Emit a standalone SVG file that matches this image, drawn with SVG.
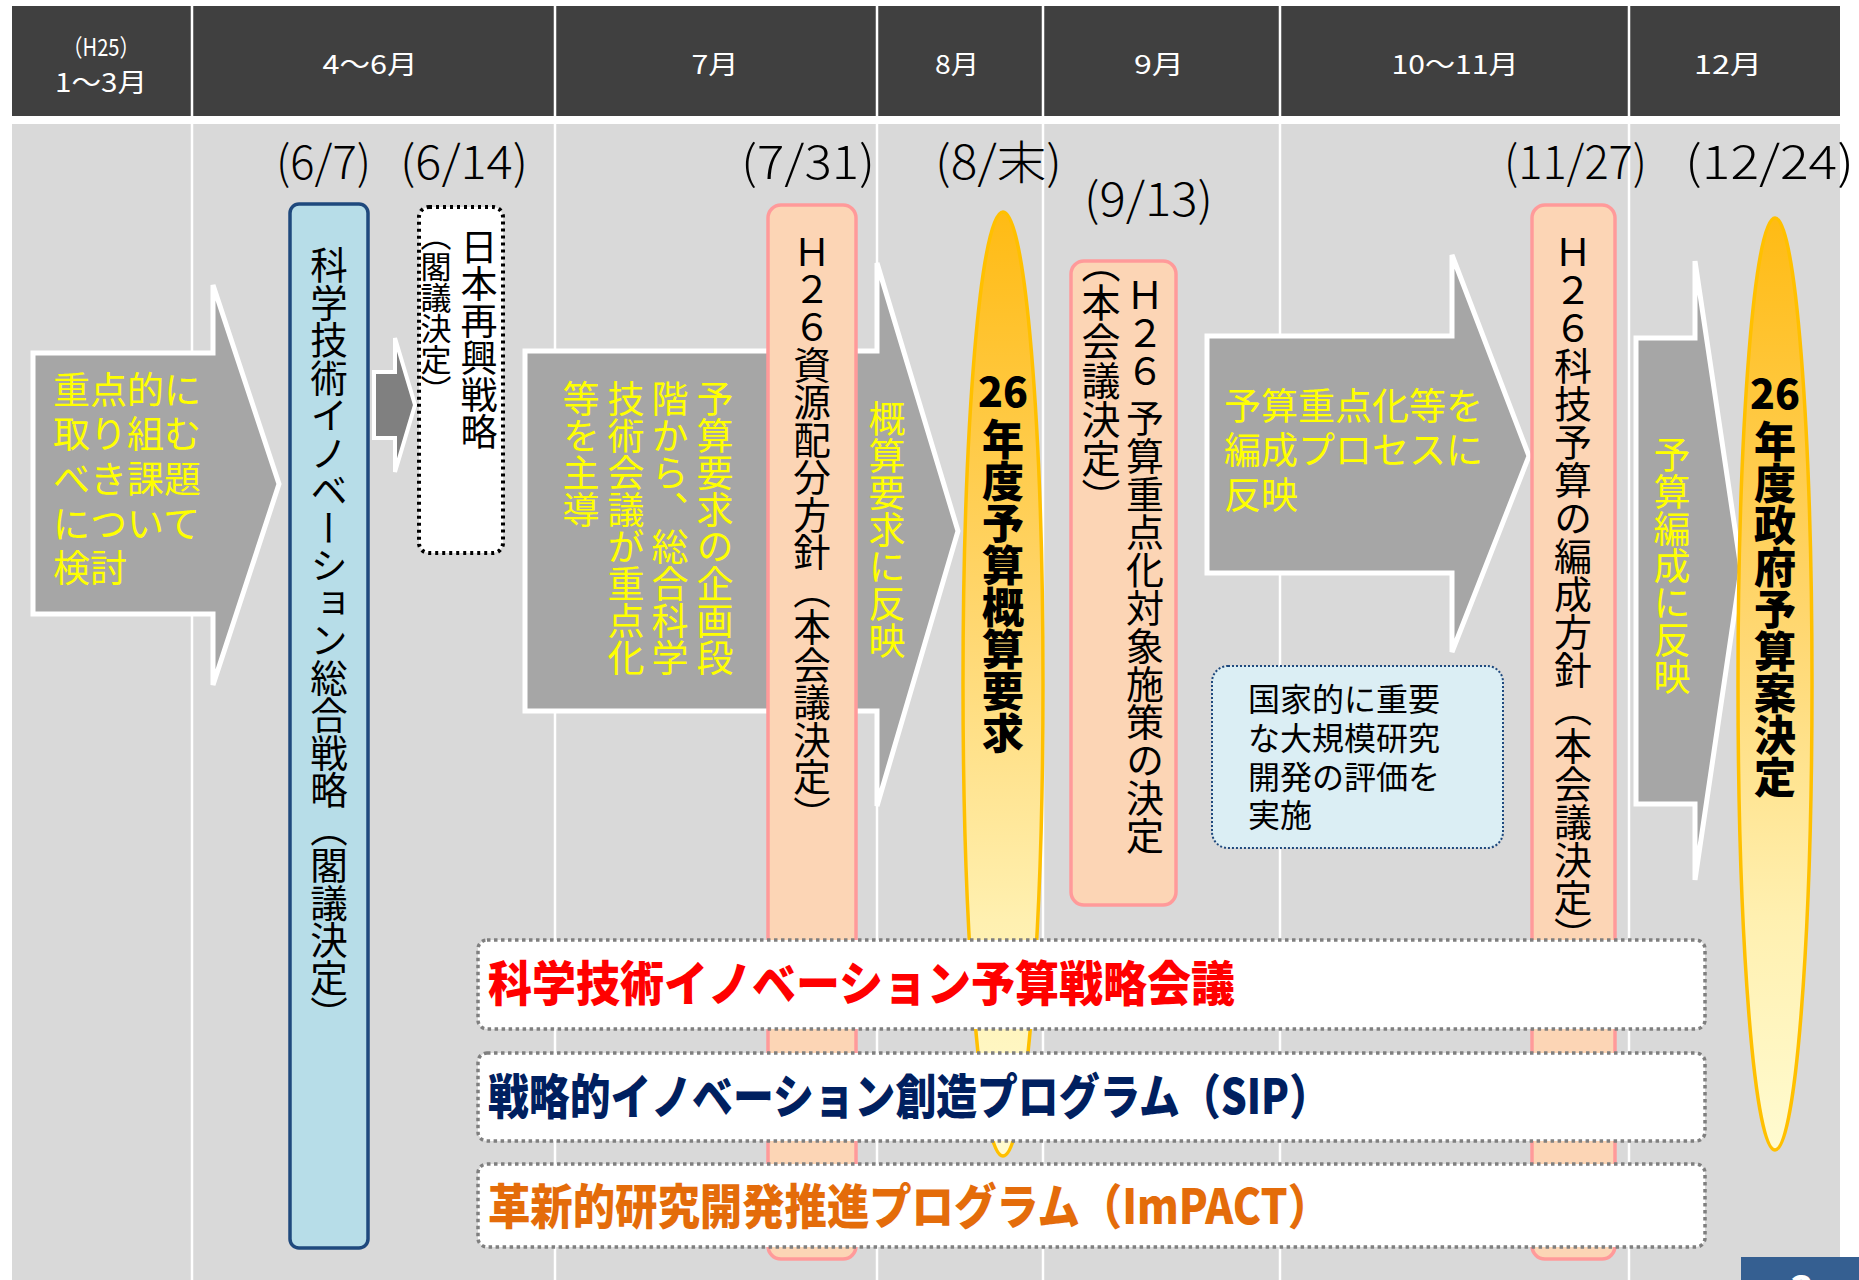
<svg xmlns="http://www.w3.org/2000/svg" width="1859" height="1280" viewBox="0 0 1859 1280">
<defs>
<linearGradient id="gold" x1="0" y1="0" x2="0" y2="1">
<stop offset="0" stop-color="#ffbb14"/>
<stop offset="0.45" stop-color="#ffd873"/>
<stop offset="0.75" stop-color="#fff0b0"/>
<stop offset="1" stop-color="#fffbd0"/>
</linearGradient>
<style>
text{font-family:"Noto Sans CJK JP","Noto Sans",sans-serif;}
.hd{fill:#fff;font-size:24px;text-anchor:middle;}
.dt{fill:#000;font-size:46px;font-weight:300;}
.v{writing-mode:vertical-rl;}
.y{fill:#ffff00;font-size:37px;}
.blk{fill:#000;font-size:37px;}
.bold{font-weight:900;fill:#000;font-size:41px;}
.arrow{fill:#a6a6a6;stroke:#fff;stroke-width:5;}
.pink{fill:#fcd5b5;stroke:#ff9a9a;stroke-width:3.5;}
.ell{fill:url(#gold);stroke:#ffc000;stroke-width:3.5;}
.band{fill:#fff;stroke:#7f7f7f;stroke-width:3.5;stroke-dasharray:3.5 3.5;}
.bt{font-size:48px;font-weight:900;}
.div{stroke:#fff;stroke-width:2.5;}
</style>
</defs>
<rect width="1859" height="1280" fill="#fff"/>
<g id="background">
<rect x="12" y="6" width="1828" height="110" fill="#404040"/>
<rect x="12" y="124" width="1828" height="1156" fill="#d9d9d9"/>
<line class="div" x1="192" y1="6" x2="192" y2="1280"/>
<line class="div" x1="555" y1="6" x2="555" y2="1280"/>
<line class="div" x1="877" y1="6" x2="877" y2="1280"/>
<line class="div" x1="1043" y1="6" x2="1043" y2="1280"/>
<line class="div" x1="1280" y1="6" x2="1280" y2="1280"/>
<line class="div" x1="1629" y1="6" x2="1629" y2="1280"/>
</g>
<g id="header">
<text class="hd" x="101" y="56" style="font-size:24px" textLength="77" lengthAdjust="spacingAndGlyphs">（H25）</text>
<text class="hd" x="101" y="92" style="font-size:26px" textLength="92" lengthAdjust="spacingAndGlyphs">1～3月</text>
<text class="hd" x="370" y="74" style="font-size:26px" textLength="95" lengthAdjust="spacingAndGlyphs">4～6月</text>
<text class="hd" x="715" y="74" style="font-size:26px" textLength="47" lengthAdjust="spacingAndGlyphs">7月</text>
<text class="hd" x="957" y="74" style="font-size:26px" textLength="44" lengthAdjust="spacingAndGlyphs">8月</text>
<text class="hd" x="1159" y="74" style="font-size:26px" textLength="50" lengthAdjust="spacingAndGlyphs">9月</text>
<text class="hd" x="1455" y="74" style="font-size:26px" textLength="127" lengthAdjust="spacingAndGlyphs">10～11月</text>
<text class="hd" x="1728" y="74" style="font-size:26px" textLength="68" lengthAdjust="spacingAndGlyphs">12月</text>
</g>
<g id="dates">
<text class="dt" x="276" y="179" textLength="95" lengthAdjust="spacingAndGlyphs">(6/7)</text>
<text class="dt" x="400" y="179" textLength="128" lengthAdjust="spacingAndGlyphs">(6/14)</text>
<text class="dt" x="741" y="179" textLength="134" lengthAdjust="spacingAndGlyphs">(7/31)</text>
<text class="dt" x="935" y="179" textLength="127" lengthAdjust="spacingAndGlyphs">(8/末)</text>
<text class="dt" x="1084" y="216" textLength="129" lengthAdjust="spacingAndGlyphs">(9/13)</text>
<text class="dt" x="1504" y="179" textLength="143" lengthAdjust="spacingAndGlyphs">(11/27)</text>
<text class="dt" x="1685" y="179" textLength="169" lengthAdjust="spacingAndGlyphs">(12/24)</text>
</g>
<g id="connectors">
<path id="arrow-left" class="arrow" d="M33,353 L213,353 L213,285 L279,484 L213,685 L213,614 L33,614 Z"/>
<path id="arrow-small" d="M374,372 L395,372 L395,338 L415,405 L395,472 L395,438 L374,438 Z" fill="#808080" stroke="#fff" stroke-width="4"/>
<path id="arrow-mid" class="arrow" d="M525,351 L877,351 L877,263 L958,531 L877,806 L877,711 L525,711 Z"/>
<path id="arrow-right1" class="arrow" d="M1207,336 L1452,336 L1452,255 L1529,456 L1452,652 L1452,573 L1207,573 Z"/>
<path id="arrow-right2" class="arrow" d="M1636,338 L1695,338 L1695,261 L1741,569 L1695,880 L1695,804 L1636,804 Z"/>
</g>
<g id="node-left-text">
<text class="y" x="53" y="404">重点的に</text>
<text class="y" x="53" y="448">取り組む</text>
<text class="y" x="53" y="493">べき課題</text>
<text class="y" x="53" y="538">について</text>
<text class="y" x="53" y="582">検討</text>
</g>
<g id="node-strategy">
<rect x="290" y="204" width="78" height="1044" rx="9" fill="#b7dde8" stroke="#1f497d" stroke-width="3.5"/>
<text class="v blk" x="329" y="246" style="font-size:37.5px">科学技術イノベーション総合戦略（閣議決定）</text>
</g>
<g id="node-revival">
<rect x="419" y="207" width="84" height="346" rx="10" fill="#fff" stroke="#000" stroke-width="4" stroke-dasharray="3 4"/>
<text class="v blk" x="479" y="228" style="font-size:37px">日本再興戦略</text>
<text class="v blk" x="436" y="220" style="font-size:31px">（閣議決定）</text>
</g>
<g id="node-mid-text">
<text class="v y" x="715" y="380">予算要求の企画段</text>
<text class="v y" x="670" y="380">階から、総合科学</text>
<text class="v y" x="626" y="380">技術会議が重点化</text>
<text class="v y" x="581" y="380">等を主導</text>
</g>
<g id="node-h26-resource">
<rect class="pink" x="768" y="205" width="88" height="1054" rx="13"/>
<text class="v blk" x="812" y="233" style="font-size:37.5px">Ｈ２６資源配分方針（本会議決定）</text>
</g>
<g id="node-reflect1">
<text class="v y" x="887" y="400">概算要求に反映</text>
</g>
<g id="node-request">
<ellipse class="ell" cx="1003" cy="684" rx="40" ry="472"/>
<text class="bold" x="1003" y="407" text-anchor="middle">26</text>
<text class="v bold" x="1003" y="418" style="font-size:42px">年度予算概算要求</text>
</g>
<g id="node-h26-priority">
<rect class="pink" x="1071" y="261" width="105" height="644" rx="13"/>
<text class="v blk" x="1145" y="276" style="font-size:38px">Ｈ２６ 予算重点化対象施策の決定</text>
<text class="v blk" x="1101" y="244" style="font-size:39px">（本会議決定）</text>
</g>
<g id="node-reflect2">
<text class="y" x="1224" y="420">予算重点化等を</text>
<text class="y" x="1224" y="464">編成プロセスに</text>
<text class="y" x="1224" y="509">反映</text>
</g>
<g id="node-evaluation">
<rect x="1212" y="666" width="291" height="182" rx="16" fill="#dbeef4" stroke="#1f497d" stroke-width="2" stroke-dasharray="2 2"/>
<text class="blk" x="1248" y="711" style="font-size:32px">国家的に重要</text>
<text class="blk" x="1248" y="750" style="font-size:32px">な大規模研究</text>
<text class="blk" x="1248" y="789" style="font-size:32px">開発の評価を</text>
<text class="blk" x="1248" y="827" style="font-size:32px">実施</text>
</g>
<g id="node-h26-policy">
<rect class="pink" x="1532" y="205" width="83" height="1054" rx="13"/>
<text class="v blk" x="1573" y="233" style="font-size:38px">Ｈ２６科技予算の編成方針（本会議決定）</text>
</g>
<g id="node-reflect3">
<text class="v y" x="1672" y="436">予算編成に反映</text>
</g>
<g id="node-budget">
<ellipse class="ell" cx="1775" cy="684" rx="37" ry="466"/>
<text class="bold" x="1775" y="409" text-anchor="middle">26</text>
<text class="v bold" x="1775" y="420" style="font-size:42px">年度政府予算案決定</text>
</g>
<g id="node-csti">
<rect class="band" x="478" y="940" width="1227" height="89" rx="9"/>
<text class="bt" x="488" y="1001" fill="#ff0000" textLength="747" lengthAdjust="spacingAndGlyphs">科学技術イノベーション予算戦略会議</text>
</g>
<g id="node-sip">
<rect class="band" x="478" y="1053" width="1227" height="88" rx="9"/>
<text class="bt" x="488" y="1114" fill="#002060" textLength="842" lengthAdjust="spacingAndGlyphs">戦略的イノベーション創造プログラム（SIP）</text>
</g>
<g id="node-impact">
<rect class="band" x="478" y="1164" width="1227" height="83" rx="9"/>
<text class="bt" x="488" y="1224" fill="#e46c0a" textLength="842" lengthAdjust="spacingAndGlyphs">革新的研究開発推進プログラム（ImPACT）</text>
</g>
<g id="page">
<rect x="1741" y="1257" width="118" height="23" fill="#355f91"/>
<text x="1802" y="1305" fill="#fff" font-size="40" font-weight="700" text-anchor="middle">3</text>
</g>
</svg>
